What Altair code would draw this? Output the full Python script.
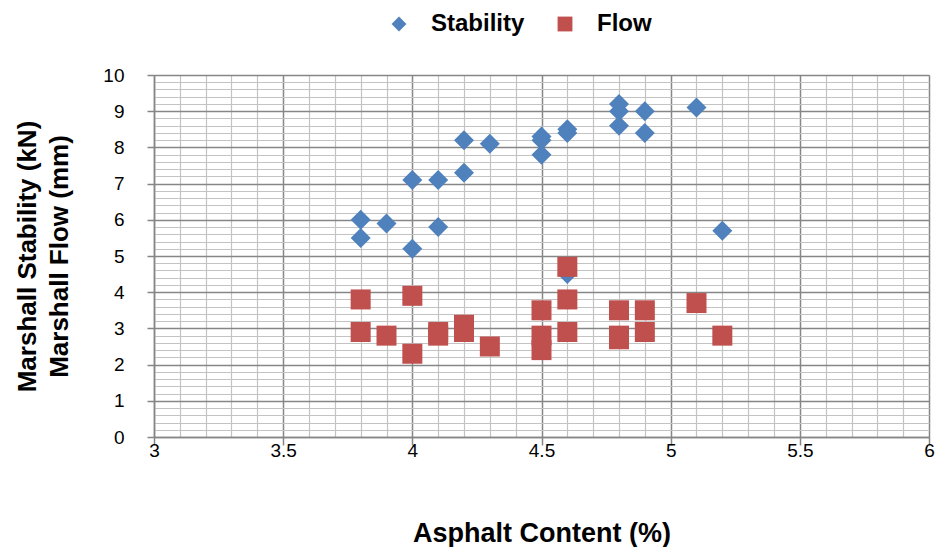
import altair as alt
import pandas as pd

stab_x = [3.8, 3.8, 3.9, 4.0, 4.0, 4.1, 4.1, 4.2, 4.2, 4.3, 4.5, 4.5, 4.5,
          4.6, 4.6, 4.6, 4.8, 4.8, 4.8, 4.9, 4.9, 5.1, 5.2]
stab_y = [6.0, 5.5, 5.9, 7.1, 5.2, 7.1, 5.8, 8.2, 7.3, 8.1, 8.3, 8.2, 7.8,
          8.5, 8.4, 4.5, 9.2, 9.0, 8.6, 9.0, 8.4, 9.1, 5.7]

flow_x = [3.8, 3.8, 3.9, 4.0, 4.0, 4.1, 4.1, 4.2, 4.2, 4.3, 4.5, 4.5, 4.5,
          4.6, 4.6, 4.6, 4.8, 4.8, 4.8, 4.9, 4.9, 5.1, 5.2]
flow_y = [3.8, 2.9, 2.8, 3.9, 2.3, 2.9, 2.8, 3.1, 2.9, 2.5, 3.5, 2.8, 2.4,
          4.7, 3.8, 2.9, 3.5, 2.8, 2.7, 3.5, 2.9, 3.7, 2.8]

series = ["Stability", "Flow"]
colors = ["#4F81BD", "#C0504D"]
shapes = ["diamond", "square"]

x_grid = [round(3 + 0.1 * i, 1) for i in range(31)]
y_grid = [round(0.2 * i, 1) for i in range(51)]

df = pd.concat([
    pd.DataFrame({"x": stab_x, "y": stab_y, "s": "Stability"}),
    pd.DataFrame({"x": flow_x, "y": flow_y, "s": "Flow"}),
], ignore_index=True)

FONT = "Liberation Sans"
MAJ = "#868686"
MIN = "#c3c3c3"
x_major = "abs(datum.value*2 - round(datum.value*2)) < 0.000001"
y_major = "abs(datum.value - round(datum.value)) < 0.000001"

chart = alt.Chart(df).mark_point(filled=True, opacity=1, size=400).encode(
    x=alt.X("x:Q", scale=alt.Scale(domain=[3, 6], nice=False, zero=False),
            axis=alt.Axis(
                title="Asphalt Content (%)", values=x_grid, format="~g",
                labelExpr=f"({x_major}) ? datum.label : ''",
                labelFlush=False, labelOverlap=False,
                labelFont=FONT, labelFontSize=19, labelColor="#000000",
                labelPadding=-4, tickSize=8, tickWidth=1.5,
                tickColor={"condition": {"test": x_major, "value": MAJ}, "value": "transparent"},
                gridColor={"condition": {"test": x_major, "value": MAJ}, "value": MIN},
                gridWidth={"condition": {"test": x_major, "value": 1.5}, "value": 1.2},
                domainColor=MAJ, domainWidth=1.5,
                titleFont=FONT, titleFontSize=27, titleFontWeight="bold",
                titleColor="#000000", titlePadding=60)),
    y=alt.Y("y:Q", scale=alt.Scale(domain=[0, 10], nice=False),
            axis=alt.Axis(
                title=["Marshall Stability (kN)", "Marshall Flow (mm)"],
                values=y_grid, format="~g",
                labelExpr=f"({y_major}) ? datum.label : ''",
                labelFlush=False, labelOverlap=False,
                labelFont=FONT, labelFontSize=19, labelColor="#000000",
                labelPadding=23, tickSize=7, tickWidth=1.5,
                tickColor={"condition": {"test": y_major, "value": MAJ}, "value": "transparent"},
                gridColor={"condition": {"test": y_major, "value": MAJ}, "value": MIN},
                gridWidth={"condition": {"test": y_major, "value": 1.5}, "value": 1.2},
                domainColor=MAJ, domainWidth=1.5,
                titleFont=FONT, titleFontSize=26, titleFontWeight="bold",
                titleColor="#000000", titlePadding=30, titleLineHeight=32)),
    color=alt.Color("s:N", scale=alt.Scale(domain=series, range=colors),
                    legend=alt.Legend(title=None, orient="none", direction="horizontal",
                                      legendX=233, legendY=-63,
                                      labelFont=FONT, labelFontSize=24,
                                      labelFontWeight="bold", labelColor="#000000",
                                      symbolSize=220, labelOffset=20,
                                      columnPadding=28)),
    shape=alt.Shape("s:N", scale=alt.Scale(domain=series, range=shapes), legend=None),
).properties(
    width=775, height=362,
    autosize=alt.AutoSizeParams(type="none"),
    padding={"left": 146, "top": 67, "right": 6, "bottom": 110},
).configure_view(stroke=None).configure(background="white")

chart.save("out.html", embed_options={"renderer": "svg", "actions": False})
